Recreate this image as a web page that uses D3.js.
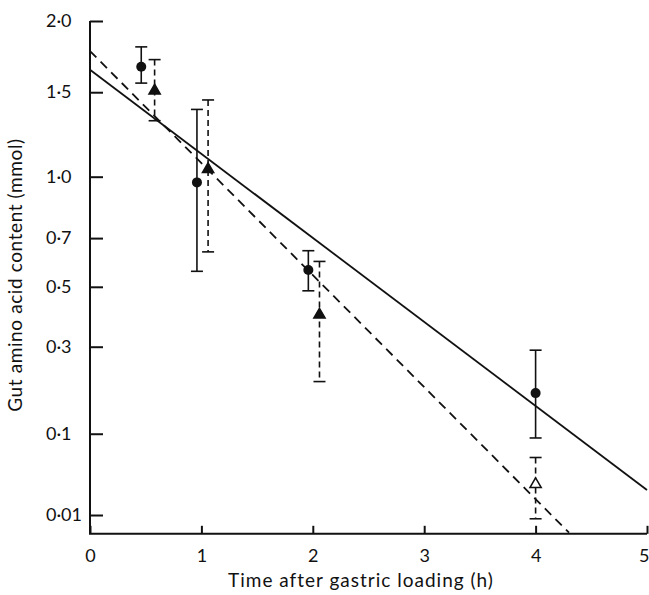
<!DOCTYPE html>
<html>
<head>
<meta charset="utf-8">
<script src="https://cdn.jsdelivr.net/npm/d3@7"></script>
<style>
  body { margin: 0; background: #fff; }
  text { font-family: Lato, "Open Sans", sans-serif; fill: #111; }
</style>
</head>
<body>
<div class="chart"></div>
<script>
// data (time in h, content in mmol)
var circleX = [0.46, 0.96, 1.96, 4.0];
var circleY = [1.67, 0.97, 0.565, 0.18];
var circleHi = [1.81, 1.39, 0.645, 0.29];
var circleLo = [1.56, 0.56, 0.485, 0.093];

var triX = [0.58, 1.06, 2.06, 4.0];
var triY = [1.51, 1.04, 0.40, 0.033];
var triHi = [1.72, 1.45, 0.60, 0.064];
var triLo = [1.32, 0.64, 0.207, 0.0081];

// fitted lines, start and end points
var solidLineX = [0, 5];
var solidLineY = [1.65, 0.0277];
var dashLineX = [0, 4.3];
var dashLineY = [1.78, 0.0028];

var xTicks = [0, 1, 2, 3, 4, 5];
var yTicks = [2.0, 1.5, 1.0, 0.7, 0.5, 0.3, 0.1, 0.01];
var yTickLabels = ["2·0", "1·5", "1·0", "0·7", "0·5", "0·3", "0·1", "0·01"];
var yFloor = 0.0025; // where the time axis sits

var svgWidth = 649;
var svgHeight = 595;

var svg = d3.select(".chart")
  .append("svg")
  .attr("width", svgWidth)
  .attr("height", svgHeight);

var xScale = d3.scaleLinear().domain([0, 5]).range([90, 647]);
var yScale = d3.scaleSqrt().domain([0, 2]).range([552.6, 21]);

var y0 = yScale(yFloor);

// y axis
var leftAxis = d3.axisLeft(yScale)
  .tickValues(yTicks)
  .tickSizeInner(-13)
  .tickSizeOuter(0)
  .tickFormat((d, i) => yTickLabels[i]);

var yAxisG = svg.append("g")
  .attr("transform", `translate(${xScale(0)}, 0)`)
  .call(leftAxis);
yAxisG.select(".domain").remove();
yAxisG.selectAll("line").attr("stroke", "#111").attr("stroke-width", 2);
yAxisG.selectAll("text")
  .attr("text-anchor", "start")
  .attr("x", -44)
  .style("font-size", "18px")
  .style("font-family", "Lato, sans-serif");

// x axis
var bottomAxis = d3.axisBottom(xScale)
  .tickValues(xTicks)
  .tickSizeInner(-8)
  .tickSizeOuter(0)
  .tickPadding(15)
  .tickFormat(d3.format("d"));

var xAxisG = svg.append("g")
  .attr("transform", `translate(0, ${y0})`)
  .call(bottomAxis);
xAxisG.select(".domain").remove();
xAxisG.selectAll("line").attr("stroke", "#111").attr("stroke-width", 2);
xAxisG.selectAll("text")
  .style("font-size", "18px")
  .style("font-family", "Lato, sans-serif");
// last label sits at the page edge, keep it inside
xAxisG.selectAll("text").filter(d => d === 5)
  .attr("text-anchor", "end")
  .attr("x", 2);

// axis lines
svg.append("path")
  .attr("d", `M${xScale(0)},${yScale(2)} V${y0} H${xScale(5)}`)
  .attr("fill", "none")
  .attr("stroke", "#111")
  .attr("stroke-width", 2);

// fitted lines
svg.append("line")
  .attr("x1", xScale(solidLineX[0])).attr("y1", yScale(solidLineY[0]))
  .attr("x2", xScale(solidLineX[1])).attr("y2", yScale(solidLineY[1]))
  .attr("stroke", "#111")
  .attr("stroke-width", 1.8);

svg.append("line")
  .attr("x1", xScale(dashLineX[0])).attr("y1", yScale(dashLineY[0]))
  .attr("x2", xScale(dashLineX[1])).attr("y2", yScale(dashLineY[1]))
  .attr("stroke", "#111")
  .attr("stroke-width", 1.8)
  .attr("stroke-dasharray", "9,6");

// error bars
function errorBars(xs, his, los, dash) {
  var g = svg.append("g");
  xs.forEach(function(xv, i) {
    var cx = xScale(xv);
    g.append("line")
      .attr("x1", cx).attr("x2", cx)
      .attr("y1", yScale(his[i])).attr("y2", yScale(los[i]))
      .attr("stroke", "#111")
      .attr("stroke-width", 1.6)
      .attr("stroke-dasharray", dash);
    [his[i], los[i]].forEach(function(v) {
      g.append("line")
        .attr("x1", cx - 6).attr("x2", cx + 6)
        .attr("y1", yScale(v)).attr("y2", yScale(v))
        .attr("stroke", "#111")
        .attr("stroke-width", 1.6);
    });
  });
}
errorBars(circleX, circleHi, circleLo, null);
errorBars(triX, triHi, triLo, "6,4");

// points
svg.selectAll(".dot")
  .data(circleX)
  .enter()
  .append("circle")
  .attr("class", "dot")
  .attr("cx", d => xScale(d))
  .attr("cy", (d, i) => yScale(circleY[i]))
  .attr("r", 5)
  .attr("fill", "#111");

var triSym = d3.symbol().type(d3.symbolTriangle).size(55);
svg.selectAll(".tri")
  .data(triX)
  .enter()
  .append("path")
  .attr("class", "tri")
  .attr("d", triSym)
  .attr("transform", (d, i) => `translate(${xScale(d)}, ${yScale(triY[i])})`)
  .attr("fill", (d, i) => i === 3 ? "#fff" : "#111")
  .attr("stroke", "#111")
  .attr("stroke-width", 1.5);

// axis titles
svg.append("text")
  .attr("text-anchor", "middle")
  .attr("x", 361)
  .attr("y", 587)
  .style("font-size", "19px")
  .style("letter-spacing", "1px")
  .text("Time after gastric loading (h)");

svg.append("text")
  .attr("text-anchor", "middle")
  .attr("transform", "translate(22, 275) rotate(-90)")
  .style("font-size", "19px")
  .style("letter-spacing", "0.6px")
  .text("Gut amino acid content (mmol)");
</script>
</body>
</html>
